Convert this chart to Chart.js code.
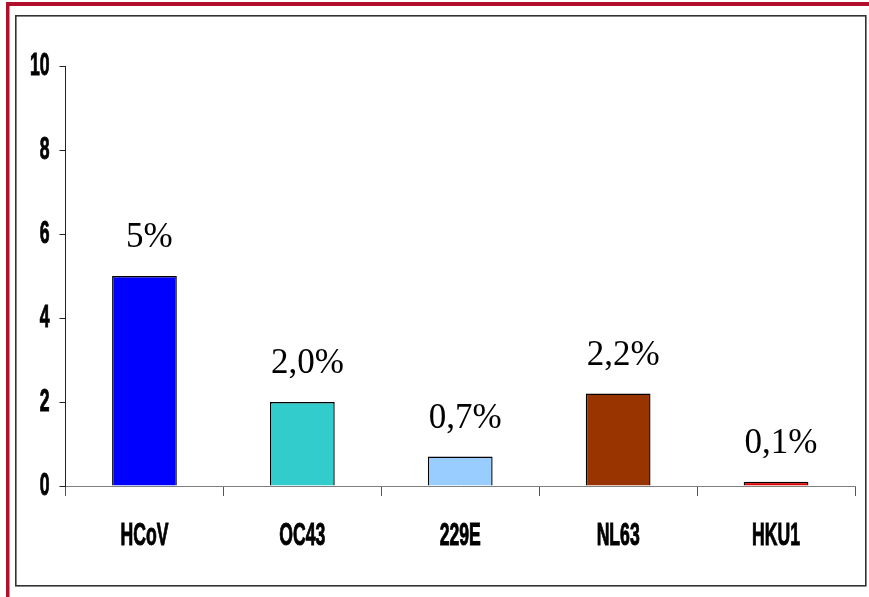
<!DOCTYPE html>
<html>
<head>
<meta charset="utf-8">
<script src="https://cdn.jsdelivr.net/npm/chart.js@4"></script>
<style>
  html, body { margin: 0; padding: 0; background: #fff; }
  #wrap { position: relative; width: 869px; height: 597px; }
</style>
</head>
<body>
<div id="wrap"><canvas id="chart" width="869" height="597"></canvas></div>
<script>
// data
const categories = ['HCoV', 'OC43', '229E', 'NL63', 'HKU1'];
const values = [5, 2.0, 0.7, 2.2, 0.1];
const valueLabels = ['5%', '2,0%', '0,7%', '2,2%', '0,1%'];
const barColors = ['#0000FF', '#33CCCC', '#99CCFF', '#993300', '#DD0000'];
const yTicks = [0, 2, 4, 6, 8, 10];

const sansBold = "bold 22px 'Liberation Sans', Arial, sans-serif";

// frame: dark red lines top/left and a thin dark box
const framePlugin = {
  id: 'frame',
  beforeDraw(chart) {
    const ctx = chart.ctx;
    ctx.save();
    ctx.fillStyle = '#fff';
    ctx.fillRect(0, 0, chart.width, chart.height);
    ctx.fillStyle = '#B0102C';
    ctx.fillRect(6, 2, chart.width - 6, 4);
    ctx.fillRect(6, 2, 3.5, chart.height - 2);
    ctx.strokeStyle = '#333';
    ctx.lineWidth = 1.6;
    ctx.strokeRect(15.8, 15.8, 850, 570);
    ctx.restore();
  }
};

// draws a condensed, tall bold label (the original uses a narrow font)
function narrowText(ctx, text, x, y, align) {
  ctx.save();
  ctx.translate(x, y);
  ctx.scale(0.8, 1.4);
  ctx.font = sansBold;
  ctx.fillStyle = '#000';
  ctx.strokeStyle = '#000';
  ctx.lineWidth = 0.7;
  ctx.textAlign = align;
  ctx.textBaseline = 'middle';
  ctx.fillText(text, 0, 0);
  ctx.strokeText(text, 0, 0);
  ctx.restore();
}

// axis tick labels placed from the scales' own tick positions
const tickLabelPlugin = {
  id: 'tickLabels',
  afterDraw(chart) {
    const ctx = chart.ctx;
    const xs = chart.scales.x;
    const ys = chart.scales.y;
    xs.ticks.forEach((t, i) => {
      narrowText(ctx, categories[i], xs.getPixelForTick(i), ys.bottom + 51, 'center');
    });
    ys.ticks.forEach((t, i) => {
      narrowText(ctx, String(t.value), xs.left - 16, ys.getPixelForTick(i) + 1, 'right');
    });
  }
};

// percentage labels above the bars
const labelPlugin = {
  id: 'valueLabels',
  afterDatasetsDraw(chart) {
    const ctx = chart.ctx;
    const meta = chart.getDatasetMeta(0);
    ctx.save();
    ctx.font = "35px 'Liberation Serif', 'Times New Roman', serif";
    ctx.fillStyle = '#000';
    ctx.textAlign = 'center';
    ctx.textBaseline = 'alphabetic';
    meta.data.forEach((bar, i) => {
      ctx.fillText(valueLabels[i], bar.x + 5, bar.y - 39 + 10);
    });
    ctx.restore();
  }
};

new Chart(document.getElementById('chart'), {
  type: 'bar',
  data: {
    labels: categories,
    datasets: [{
      data: values,
      backgroundColor: barColors,
      borderColor: '#000',
      borderWidth: 1.4,
      barPercentage: 0.41,
      categoryPercentage: 1
    }]
  },
  options: {
    responsive: false,
    animation: false,
    layout: { padding: { left: 0, top: 66, right: 14, bottom: 0 } },
    plugins: {
      legend: { display: false },
      tooltip: { enabled: false }
    },
    scales: {
      x: {
        afterFit(scale) { scale.height = 111; },
        grid: {
          offset: true,
          drawOnChartArea: false,
          drawTicks: true,
          tickLength: 10,
          color: '#555'
        },
        border: { color: '#808080', width: 1 },
        ticks: { display: false }
      },
      y: {
        min: 0,
        max: 10,
        afterFit(scale) { scale.width = 65.5; },
        afterBuildTicks(scale) { scale.ticks = yTicks.map(v => ({ value: v })); },
        grid: {
          drawOnChartArea: false,
          drawTicks: true,
          tickLength: 6,
          color: '#222'
        },
        border: { color: '#222', width: 1 },
        ticks: { display: false }
      }
    }
  },
  plugins: [framePlugin, labelPlugin, tickLabelPlugin]
});
</script>
</body>
</html>
